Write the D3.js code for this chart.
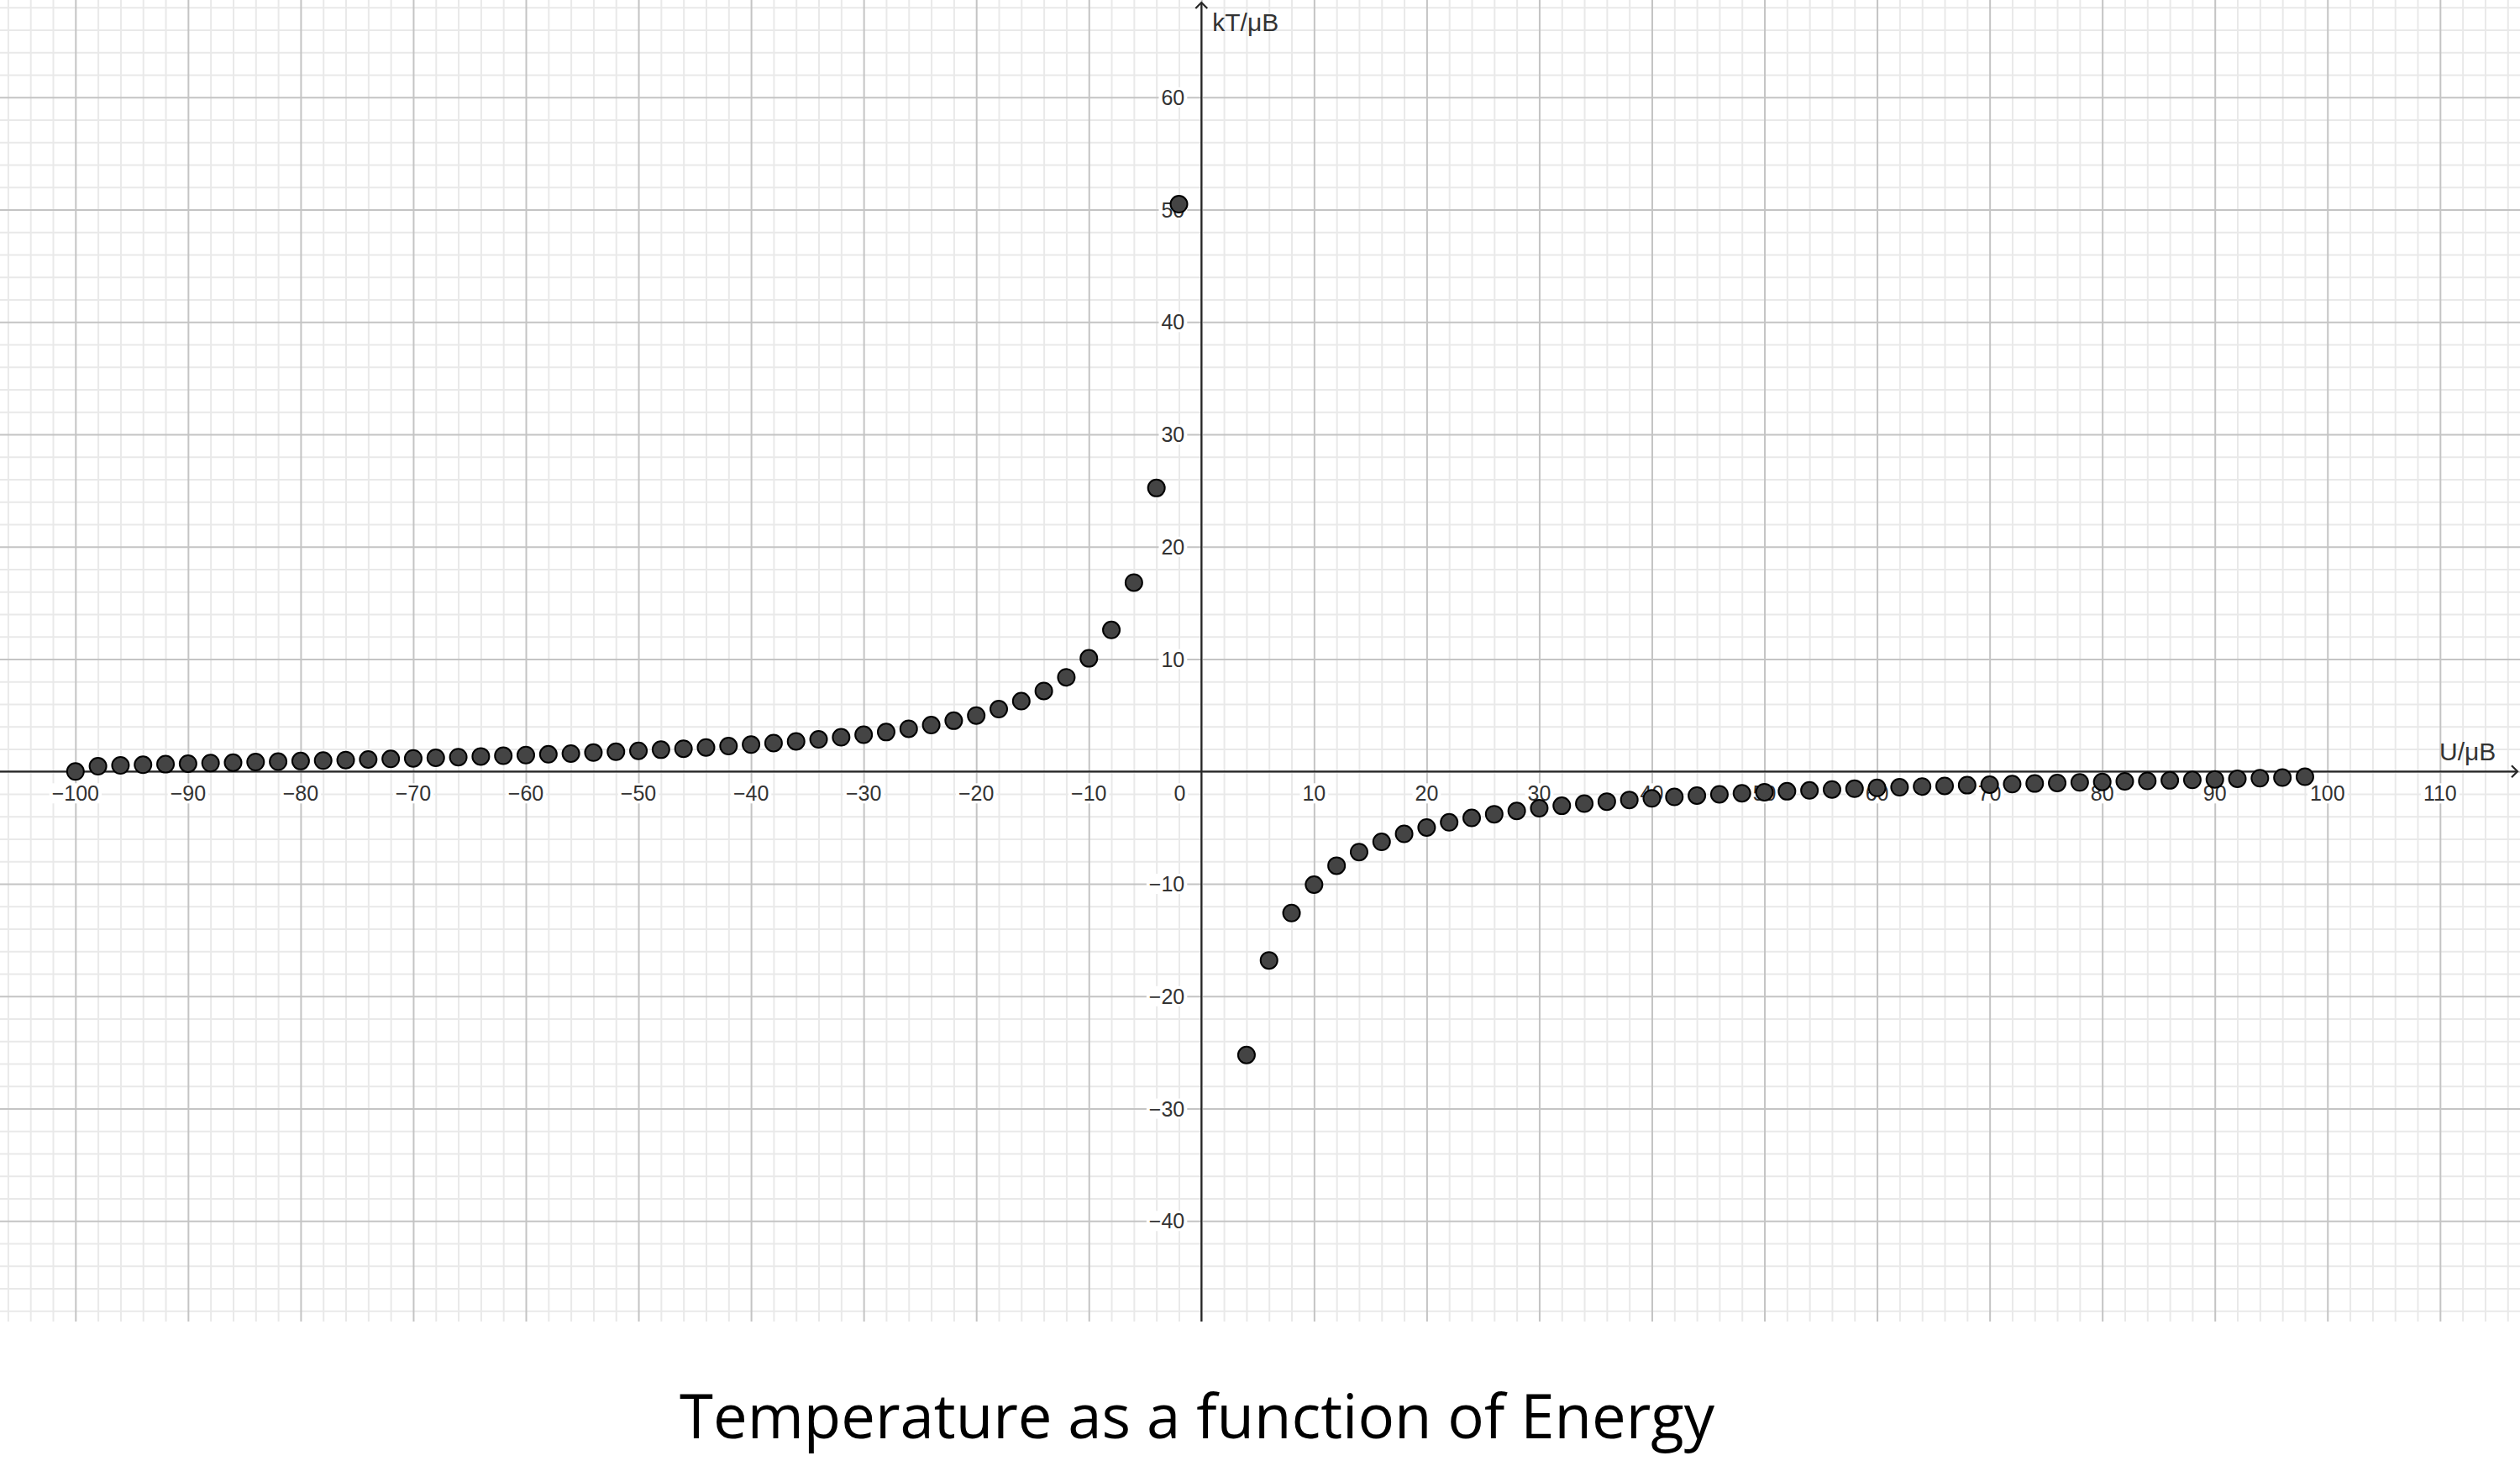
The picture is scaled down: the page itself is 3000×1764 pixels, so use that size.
<!DOCTYPE html>
<html>
<head>
    <meta charset="utf-8">
    <title>Temperature as a function of Energy</title>
    <script src="https://cdnjs.cloudflare.com/ajax/libs/d3/7.8.5/d3.min.js" type="text/JavaScript"></script>
    <style>
        html, body {
            margin: 0;
            padding: 0;
            background: #fff;
        }
        svg {
            display: block;
        }
        .minor line { stroke: #e9e9e9; stroke-width: 2px; }
        .major line { stroke: #c4c4c4; stroke-width: 2px; }
        .grid path { display: none; }
        .tickLabel {
            font-family: "Liberation Sans", Arial, sans-serif;
            font-size: 25px;
            fill: #333;
        }
        .axisLabel {
            font-family: "Liberation Sans", Arial, sans-serif;
            font-size: 30px;
            fill: #333;
        }
        .title {
            font-family: "Open Sans", sans-serif;
            font-size: 73px;
            fill: #000;
        }
    </style>
</head>
<body>
    <svg id="chart" width="3000" height="1764"></svg>

    <script>
        // U/μB and kT/μB
        var energyNeg = [-100, -98, -96, -94, -92, -90, -88, -86, -84, -82,
                         -80, -78, -76, -74, -72, -70, -68, -66, -64, -62,
                         -60, -58, -56, -54, -52, -50, -48, -46, -44, -42,
                         -40, -38, -36, -34, -32, -30, -28, -26, -24, -22,
                         -20, -18, -16, -14, -12, -10, -8, -6, -4, -2];
        var tempNeg = [0, 0.47, 0.54, 0.60, 0.65, 0.70, 0.75, 0.79, 0.84, 0.88,
                       0.93, 0.97, 1.02, 1.07, 1.12, 1.17, 1.22, 1.28, 1.34, 1.40,
                       1.46, 1.53, 1.60, 1.68, 1.76, 1.84, 1.94, 2.03, 2.14, 2.26,
                       2.39, 2.53, 2.68, 2.86, 3.05, 3.27, 3.51, 3.80, 4.13, 4.52,
                       4.98, 5.55, 6.26, 7.17, 8.38, 10.07, 12.60, 16.81, 25.23, 50.49];

        var energyPos = [4, 6, 8, 10, 12, 14, 16, 18, 20, 22,
                         24, 26, 28, 30, 32, 34, 36, 38, 40, 42,
                         44, 46, 48, 50, 52, 54, 56, 58, 60, 62,
                         64, 66, 68, 70, 72, 74, 76, 78, 80, 82,
                         84, 86, 88, 90, 92, 94, 96, 98];
        var tempPos = [-25.23, -16.81, -12.60, -10.07, -8.38, -7.17, -6.26, -5.55, -4.98, -4.52,
                       -4.13, -3.80, -3.51, -3.27, -3.05, -2.86, -2.68, -2.53, -2.39, -2.26,
                       -2.14, -2.03, -1.94, -1.84, -1.76, -1.68, -1.60, -1.53, -1.46, -1.40,
                       -1.34, -1.28, -1.22, -1.17, -1.12, -1.07, -1.02, -0.97, -0.93, -0.88,
                       -0.84, -0.79, -0.75, -0.70, -0.65, -0.60, -0.54, -0.47];

        var xTickLabels = [-100, -90, -80, -70, -60, -50, -40, -30, -20, -10, 0,
                           10, 20, 30, 40, 50, 60, 70, 80, 90, 100, 110];
        var yTickLabels = [60, 50, 40, 30, 20, 10, -10, -20, -30, -40];

        var points = energyNeg.map((u, i) => ({u: u, t: tempNeg[i]}))
                        .concat(energyPos.map((u, i) => ({u: u, t: tempPos[i]})));

        var plotW = 3000, plotH = 1573;

        var xScale = d3.scaleLinear().domain([-106.7, 117.1]).range([0, plotW]);
        var yScale = d3.scaleLinear().domain([68.66, -48.95]).range([0, plotH]);

        var svg = d3.select("#chart");

        // grid: minor every 2, major every 10
        var minorX = d3.range(-106, 118, 2).filter(v => v % 10 != 0);
        var minorY = d3.range(-48, 70, 2).filter(v => v % 10 != 0);
        var majorX = d3.range(-100, 120, 10);
        var majorY = d3.range(-40, 70, 10);

        svg.append("g").attr("class", "grid minor")
            .call(d3.axisBottom(xScale).tickValues(minorX).tickSize(plotH).tickFormat(""));
        svg.append("g").attr("class", "grid minor")
            .call(d3.axisRight(yScale).tickValues(minorY).tickSize(plotW).tickFormat(""));
        svg.append("g").attr("class", "grid major")
            .call(d3.axisBottom(xScale).tickValues(majorX).tickSize(plotH).tickFormat(""));
        svg.append("g").attr("class", "grid major")
            .call(d3.axisRight(yScale).tickValues(majorY).tickSize(plotW).tickFormat(""));

        var x0 = xScale(0), y0 = yScale(0);

        // tick labels with white boxes behind them
        var fmt = v => v < 0 ? "\u2212" + Math.abs(v) : String(v);
        var labels = svg.append("g");

        function addLabel(txt, x, y, anchor) {
            var g = labels.append("g");
            var t = g.append("text")
                .attr("class", "tickLabel")
                .attr("x", x)
                .attr("y", y)
                .attr("text-anchor", anchor)
                .text(txt);
            var bb = t.node().getBBox();
            g.insert("rect", "text")
                .attr("x", bb.x - 3)
                .attr("y", bb.y + 2)
                .attr("width", bb.width + 6)
                .attr("height", bb.height - 4)
                .attr("fill", "#fff");
        }

        xTickLabels.forEach(v => {
            if (v == 0) addLabel("0", x0 - 19, y0 + 35, "end");
            else addLabel(fmt(v), xScale(v), y0 + 35, "middle");
        });
        yTickLabels.forEach(v => addLabel(fmt(v), x0 - 20, yScale(v) + 9, "end"));

        // axes with arrows
        var axisColor = "#262626";
        svg.append("line")
            .attr("x1", 0).attr("x2", plotW - 3)
            .attr("y1", y0).attr("y2", y0)
            .attr("stroke", axisColor).attr("stroke-width", 2.2);
        svg.append("path")
            .attr("d", `M${plotW - 10},${y0 - 7} L${plotW - 3},${y0} L${plotW - 10},${y0 + 7}`)
            .attr("fill", "none").attr("stroke", axisColor).attr("stroke-width", 2.2);

        svg.append("line")
            .attr("x1", x0).attr("x2", x0)
            .attr("y1", plotH).attr("y2", 3)
            .attr("stroke", axisColor).attr("stroke-width", 2.2);
        svg.append("path")
            .attr("d", `M${x0 - 7},${10} L${x0},${3} L${x0 + 7},${10}`)
            .attr("fill", "none").attr("stroke", axisColor).attr("stroke-width", 2.2);

        svg.append("text")
            .attr("class", "axisLabel")
            .attr("x", x0 + 13)
            .attr("y", 37)
            .text("kT/\u03bcB");
        svg.append("text")
            .attr("class", "axisLabel")
            .attr("x", 2904)
            .attr("y", 905)
            .text("U/\u03bcB");

        // data points
        svg.append("g").selectAll("circle")
            .data(points)
            .enter()
            .append("circle")
            .attr("cx", d => xScale(d.u))
            .attr("cy", d => yScale(d.t))
            .attr("r", 10)
            .attr("fill", "#444")
            .attr("stroke", "#000")
            .attr("stroke-width", 2);

        svg.append("text")
            .attr("class", "title")
            .attr("x", 1425)
            .attr("y", 1712)
            .attr("text-anchor", "middle")
            .attr("textLength", 1232)
            .attr("lengthAdjust", "spacingAndGlyphs")
            .text("Temperature as a function of Energy");
    </script>
</body>
</html>
